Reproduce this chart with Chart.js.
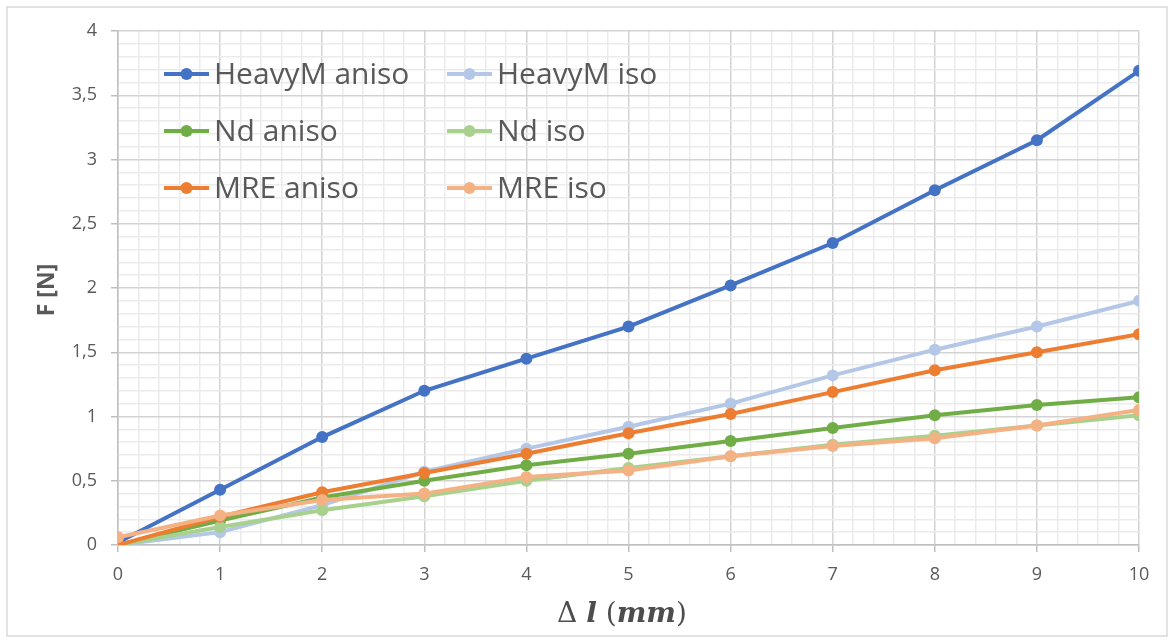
<!DOCTYPE html>
<html>
<head>
<meta charset="utf-8">
<script src="https://cdn.jsdelivr.net/npm/chart.js@4/dist/chart.umd.min.js"></script>
<style>
  html, body { margin: 0; padding: 0; background: #ffffff; }
  #wrap { width: 1175px; height: 644px; position: relative; }
</style>
</head>
<body>
<div id="wrap"><canvas id="c" width="1175" height="644"></canvas></div>
<script>
// Elongation in mm
const elongation = [0, 1, 2, 3, 4, 5, 6, 7, 8, 9, 10];

// Measured force in N for each sample
const heavyMAniso = [0.02, 0.43, 0.84, 1.20, 1.45, 1.70, 2.02, 2.35, 2.76, 3.15, 3.69];
const heavyMIso   = [0.00, 0.10, 0.31, 0.57, 0.75, 0.92, 1.10, 1.32, 1.52, 1.70, 1.90];
const ndAniso     = [0.00, 0.19, 0.37, 0.50, 0.62, 0.71, 0.81, 0.91, 1.01, 1.09, 1.15];
const ndIso       = [0.00, 0.14, 0.27, 0.38, 0.50, 0.60, 0.69, 0.78, 0.85, 0.93, 1.01];
const mreAniso    = [0.00, 0.22, 0.41, 0.56, 0.71, 0.87, 1.02, 1.19, 1.36, 1.50, 1.64];
const mreIso      = [0.06, 0.23, 0.35, 0.40, 0.53, 0.58, 0.69, 0.77, 0.83, 0.93, 1.05];

const seriesNames = ['HeavyM aniso', 'HeavyM iso', 'Nd aniso', 'Nd iso', 'MRE aniso', 'MRE iso'];
const seriesValues = [heavyMAniso, heavyMIso, ndAniso, ndIso, mreAniso, mreIso];
const seriesColors = ['#4472C4', '#B4C7E7', '#70AD47', '#A9D18E', '#ED7D31', '#F4B183'];

const TEXT = '#595959';
const MAJOR = '#d3d3d3';
const MINOR = '#ebebeb';

const datasets = seriesNames.map((name, i) => ({
  label: name,
  data: elongation.map((x, k) => ({ x: x, y: seriesValues[i][k] })),
  borderColor: seriesColors[i],
  backgroundColor: seriesColors[i],
  borderWidth: 4,
  pointRadius: 6,
  pointHoverRadius: 6,
  pointBorderWidth: 0,
  tension: 0,
  order: seriesNames.length - i   // later series are painted on top
}));

const isMajorX = v => Math.abs(v - Math.round(v)) < 1e-6;
const isMajorY = v => Math.abs(v * 2 - Math.round(v * 2)) < 1e-6;

// Frame, in-plot legend and axis titles
const decorations = {
  id: 'decorations',
  beforeDraw(chart) {
    const ctx = chart.ctx;
    ctx.save();
    ctx.fillStyle = '#ffffff';
    ctx.fillRect(0, 0, chart.width, chart.height);
    ctx.strokeStyle = '#d9d9d9';
    ctx.lineWidth = 1.5;
    ctx.strokeRect(7, 7, 1160, 629);
    ctx.restore();
  },
  afterDraw(chart) {
    const ctx = chart.ctx;
    ctx.save();

    // legend: two columns, three rows
    const colX = [164, 447];
    const rowY = [74, 131, 188];
    ctx.font = '30px "Open Sans"';
    ctx.textBaseline = 'middle';
    ctx.textAlign = 'left';
    seriesNames.forEach((name, i) => {
      const x0 = colX[i % 2];
      const y0 = rowY[Math.floor(i / 2)];
      ctx.strokeStyle = seriesColors[i];
      ctx.lineWidth = 4;
      ctx.lineCap = 'butt';
      ctx.beginPath();
      ctx.moveTo(x0, y0);
      ctx.lineTo(x0 + 45, y0);
      ctx.stroke();
      ctx.fillStyle = seriesColors[i];
      ctx.beginPath();
      ctx.arc(x0 + 22.5, y0, 6, 0, Math.PI * 2);
      ctx.fill();
      ctx.fillStyle = TEXT;
      ctx.fillText(name, x0 + 50, y0 + 1);
    });

    // y axis title
    ctx.save();
    ctx.translate(47, 290);
    ctx.rotate(-Math.PI / 2);
    ctx.font = 'bold 23px "Open Sans"';
    ctx.textAlign = 'center';
    ctx.textBaseline = 'middle';
    ctx.fillStyle = TEXT;
    ctx.fillText('F [N]', 0, 0);
    ctx.restore();

    // x axis title, math style
    const parts = [
      { t: '\u0394 ', f: '28px "DejaVu Serif"' },
      { t: 'l', f: 'italic bold 28px "DejaVu Serif"' },
      { t: ' (', f: '28px "DejaVu Serif"' },
      { t: 'mm', f: 'italic bold 28px "DejaVu Serif"' },
      { t: ')', f: '28px "DejaVu Serif"' }
    ];
    let total = 0;
    parts.forEach(p => { ctx.font = p.f; p.w = ctx.measureText(p.t).width; total += p.w; });
    let x = 622 - total / 2;
    ctx.fillStyle = '#4d4d4d';
    ctx.textAlign = 'left';
    ctx.textBaseline = 'middle';
    parts.forEach(p => { ctx.font = p.f; ctx.fillText(p.t, x, 615); x += p.w; });

    ctx.restore();
  }
};

new Chart(document.getElementById('c'), {
  type: 'line',
  data: { datasets: datasets },
  plugins: [decorations],
  options: {
    responsive: false,
    animation: false,
    devicePixelRatio: 1,
    layout: { padding: { left: 0, right: 36, top: 31, bottom: 0 } },
    plugins: {
      legend: { display: false },
      tooltip: { enabled: false },
      title: { display: false }
    },
    scales: {
      x: {
        type: 'linear',
        min: 0,
        max: 10,
        afterFit: s => { s.height = 99; },
        ticks: {
          stepSize: 0.2,
          autoSkip: false,
          maxRotation: 0,
          padding: 12,
          color: TEXT,
          font: { family: '"Open Sans"', size: 18 },
          callback: v => isMajorX(v) ? String(Math.round(v)) : ''
        },
        grid: {
          lineWidth: 1.5,
          color: c => (c.tick && isMajorX(c.tick.value)) ? MAJOR : MINOR,
          tickColor: c => (c.tick && isMajorX(c.tick.value)) ? '#bfbfbf' : 'rgba(0,0,0,0)',
          tickLength: 7,
          drawTicks: true
        },
        border: { color: '#bfbfbf', width: 1.5 }
      },
      y: {
        type: 'linear',
        min: 0,
        max: 4,
        afterFit: s => { s.width = 118; },
        ticks: {
          stepSize: 0.1,
          autoSkip: false,
          padding: 14,
          color: TEXT,
          font: { family: '"Open Sans"', size: 18 },
          callback: v => isMajorY(v) ? String(Math.round(v * 10) / 10).replace('.', ',') : ''
        },
        grid: {
          lineWidth: 1.5,
          color: c => (c.tick && isMajorY(c.tick.value)) ? MAJOR : MINOR,
          tickColor: c => (c.tick && isMajorY(c.tick.value)) ? '#bfbfbf' : 'rgba(0,0,0,0)',
          tickLength: 7,
          drawTicks: true
        },
        border: { color: '#bfbfbf', width: 1.5 }
      }
    }
  }
});
</script>
</body>
</html>
